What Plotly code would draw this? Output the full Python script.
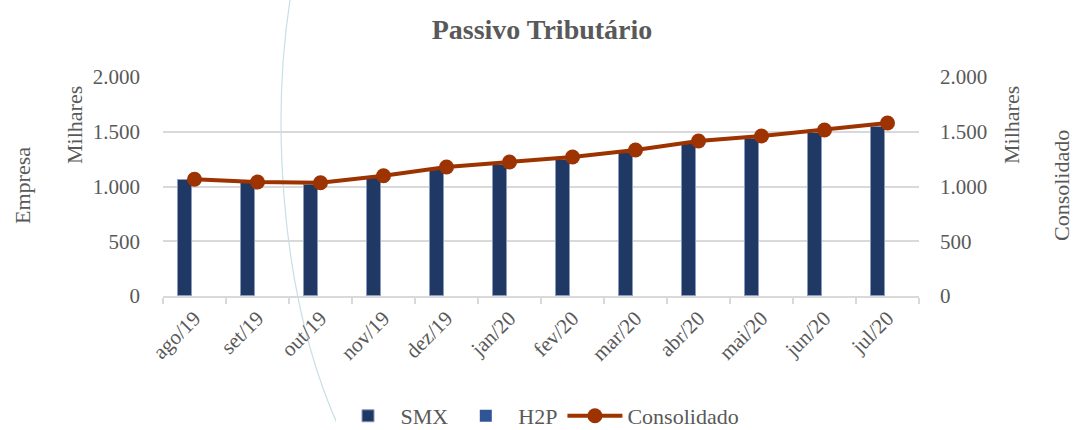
import plotly.graph_objects as go

months = ["ago/19", "set/19", "out/19", "nov/19", "dez/19", "jan/20",
          "fev/20", "mar/20", "abr/20", "mai/20", "jun/20", "jul/20"]
smx = [1060, 1030, 1015, 1075, 1150, 1195, 1240, 1305, 1385, 1430, 1485, 1545]
h2p = [0, 0, 0, 0, 0, 0, 0, 0, 0, 0, 0, 0]
consolidado = [1066, 1041, 1034, 1098, 1178, 1224, 1270, 1333, 1416, 1461, 1516, 1580]
y_ticks = [0, 500, 1000, 1500, 2000]

FONT = "Liberation Serif"
GREY = "#595959"
GRID = "#d9d9d9"

W, H = 1074, 430
L, T, R, B = 163, 77, W - 919, H - 296

fig = go.Figure()
fig.add_trace(go.Bar(x=months, y=smx, name="SMX", marker=dict(color="#1f3864", line=dict(color="#8a9bbd", width=1)),
                     width=0.22, offset=-0.265))
fig.add_trace(go.Bar(x=months, y=h2p, name="H2P", marker=dict(color="#2f5597", line=dict(width=0)),
                     width=0.22, offset=0.04))
fig.add_trace(go.Scatter(x=months, y=consolidado, name="Consolidado", yaxis="y2", mode="lines+markers",
                         line=dict(color="#9c3300", width=4), marker=dict(color="#9c3300", size=15)))


def px_x(p):
    return (p - 163) / 756


def px_y(p):
    return (296 - p) / 219


# decorative background arc
fig.add_shape(type="path", xref="paper", yref="paper",
              path=f"M {px_x(290):.4f} {px_y(0):.4f} C {px_x(273):.4f} {px_y(110):.4f}, "
                   f"{px_x(276):.4f} {px_y(290):.4f}, {px_x(340):.4f} {px_y(430):.4f}",
              line=dict(color="#c6dfe6", width=1.2), layer="below")

fig.update_layout(
    width=W, height=H,
    margin=dict(l=L, r=R, t=T, b=B, autoexpand=False),
    paper_bgcolor="white", plot_bgcolor="white",
    separators=",.",
    font=dict(family=FONT, color=GREY, size=21),
    title=dict(text="<b>Passivo Tributário</b>", x=542 / W, xanchor="center", xref="container",
               y=1 - 29 / H, yanchor="middle", yref="container",
               font=dict(family=FONT, size=28, color=GREY)),
    bargap=0, barmode="group",
    xaxis=dict(type="category", range=[-0.5, 11.5], showline=True, linecolor=GRID, linewidth=1.5,
               ticks="outside", tickson="boundaries",
               ticklen=6, tickcolor=GRID, tickwidth=1.5, tickangle=-45, tickfont=dict(size=21, color=GREY),
               showgrid=False, automargin=False),
    yaxis=dict(range=[0, 2000], tickvals=y_ticks, separatethousands=True, showgrid=True, gridcolor=GRID,
               gridwidth=1.5, zeroline=False, showline=False, tickfont=dict(size=21, color=GREY), ticks="",
               ticklabelstandoff=22, automargin=False),
    yaxis2=dict(range=[0, 2000], tickvals=y_ticks, separatethousands=True, overlaying="y", side="right",
                showgrid=False, zeroline=False, showline=False, tickfont=dict(size=21, color=GREY),
                ticklabelstandoff=20, automargin=False),
    legend=dict(orientation="h", x=px_x(540), xanchor="center", y=px_y(416), yanchor="middle",
                font=dict(size=22, color=GREY), traceorder="normal", itemwidth=55),
    showlegend=True,
)

annots = [
    dict(text="Empresa", x=22, y=186),
    dict(text="Milhares", x=74, y=125),
    dict(text="Milhares", x=1011, y=125),
    dict(text="Consolidado", x=1061, y=186),
]
for a in annots:
    fig.add_annotation(text=a["text"], xref="paper", yref="paper",
                       x=px_x(a["x"]), y=px_y(a["y"]),
                       xanchor="center", yanchor="middle", textangle=-90, showarrow=False,
                       font=dict(family=FONT, size=22, color=GREY))

fig.write_html("out.html", config={"displayModeBar": False},
               post_script="document.body.style.margin='0';document.body.style.overflow='hidden';")
